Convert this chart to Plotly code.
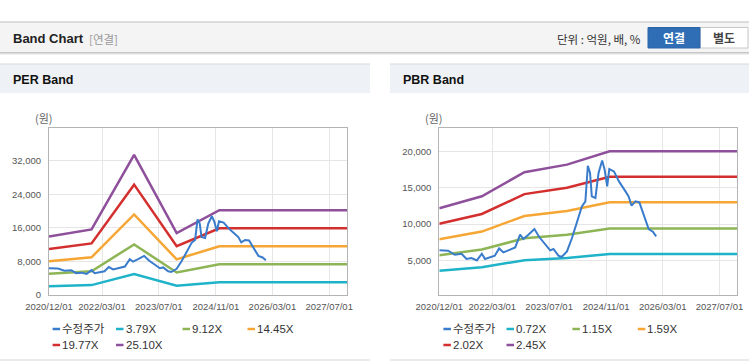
import plotly.graph_objects as go

W, H = 749, 364

# ---------------- data ----------------
price_dates = [
    "2020-12-01", "2021-02-15", "2021-04-13", "2021-06-10", "2021-07-22", "2021-09-04",
    "2021-10-19", "2021-12-01", "2021-12-28", "2022-02-10", "2022-03-22", "2022-04-28",
    "2022-06-04", "2022-07-16", "2022-09-13", "2022-10-25", "2022-11-22", "2023-01-04",
    "2023-02-25", "2023-04-07", "2023-05-28", "2023-07-10", "2023-08-07", "2023-09-19",
    "2023-10-16", "2023-12-01", "2024-01-13", "2024-02-25", "2024-04-07", "2024-05-07",
    "2024-05-28", "2024-06-16", "2024-07-01", "2024-08-01", "2024-08-28", "2024-09-28",
    "2024-10-19", "2024-11-10", "2024-11-28", "2025-01-07", "2025-02-19", "2025-04-16",
    "2025-05-13", "2025-06-07", "2025-07-10", "2025-08-13", "2025-09-19", "2025-10-19",
    "2025-11-01", "2025-12-07", "2026-01-04",
]
price = [
    6400, 6330, 5780, 5920, 5190, 5330,
    5000, 5920, 5190, 5470, 5650, 6650,
    6100, 6380, 6790, 8540, 7940, 8540,
    9320, 8220, 7160, 6380, 6570, 5650,
    5470, 6240, 8080, 10370, 12430, 13120,
    18030, 17030, 13810, 13590, 17030, 18760,
    17480, 15180, 17580, 17250, 15870, 14500,
    13810, 12530, 13120, 12980, 11290, 10150,
    9320, 8950, 8300,
]

band_dates = ["2020-12-01", "2021-12-01", "2022-12-01", "2023-12-01", "2024-12-01", "2027-12-01"]

per_names = ["3.79X", "9.12X", "14.45X", "19.77X", "25.10X"]
per_379 = [2100, 2360, 4980, 2230, 3050, 3050]
per_912 = [5060, 5670, 12050, 5360, 7340, 7340]
per_1445 = [8020, 8990, 19200, 8500, 11630, 11630]
per_1977 = [10970, 12300, 26300, 11620, 15910, 15910]
per_2510 = [13930, 15620, 33400, 14760, 20200, 20200]

pbr_names = ["0.72X", "1.15X", "1.59X", "2.02X", "2.45X"]
pbr_072 = [3580, 4060, 5030, 5340, 5880, 5880]
pbr_115 = [5720, 6490, 8040, 8530, 9400, 9400]
pbr_159 = [7900, 8970, 11110, 11800, 12990, 12990]
pbr_202 = [10040, 11390, 14120, 14990, 16500, 16500]
pbr_245 = [12180, 13820, 17130, 18180, 20020, 20020]

x_tick_vals = ["2020-12-01", "2022-03-01", "2023-07-01", "2024-11-01", "2026-03-01", "2027-07-01"]
x_tick_text = ["2020/12/01", "2022/03/01", "2023/07/01", "2024/11/01", "2026/03/01", "2027/07/01"]
per_y_ticks = [0, 8000, 16000, 24000, 32000]
pbr_y_ticks = [5000, 10000, 15000, 20000]

price_name = "수정주가"
band_colors = ["#1fb3c9", "#8db556", "#f6a634", "#d32f2f", "#8e4f9b"]
price_color = "#3a7ccc"

# ---------------- helpers ----------------
def px(x):
    return x / W

def py(y):
    return 1 - y / H

FONT = "Liberation Sans, Arial, Noto Sans CJK KR, sans-serif"
KFONT = "Noto Sans CJK KR, Liberation Sans, sans-serif"

fig = go.Figure()

per_bands = [per_379, per_912, per_1445, per_1977, per_2510]
pbr_bands = [pbr_072, pbr_115, pbr_159, pbr_202, pbr_245]

for vals, nm, col in zip(per_bands, per_names, band_colors):
    fig.add_trace(go.Scatter(x=band_dates, y=vals, name=nm, mode="lines",
                             line=dict(color=col, width=2.5), xaxis="x", yaxis="y",
                             showlegend=False, hoverinfo="skip"))
fig.add_trace(go.Scatter(x=price_dates, y=price, name=price_name, mode="lines",
                         line=dict(color=price_color, width=2), xaxis="x", yaxis="y",
                         showlegend=False, hoverinfo="skip"))

for vals, nm, col in zip(pbr_bands, pbr_names, band_colors):
    fig.add_trace(go.Scatter(x=band_dates, y=vals, name=nm, mode="lines",
                             line=dict(color=col, width=2.5), xaxis="x2", yaxis="y2",
                             showlegend=False, hoverinfo="skip"))
fig.add_trace(go.Scatter(x=price_dates, y=price, name=price_name, mode="lines",
                         line=dict(color=price_color, width=2), xaxis="x2", yaxis="y2",
                         showlegend=False, hoverinfo="skip"))

# plot areas (pixels)
PER_L, PER_R = 49, 347
PBR_L, PBR_R = 439.3, 737.3
TOP, BOT = 128, 295

axis_common = dict(
    showgrid=True, gridcolor="#e6e6e6", gridwidth=1,
    showline=True, linecolor="#b4b4b4", linewidth=1, mirror=True,
    zeroline=False, ticks="", fixedrange=True, automargin=False,
    tickfont=dict(family=FONT, size=9.5, color="#555555"),
)

fig.update_layout(
    template="none",
    width=W, height=H, autosize=False,
    margin=dict(l=0, r=0, t=0, b=0, pad=0),
    paper_bgcolor="white", plot_bgcolor="white",
    showlegend=False,
    xaxis=dict(axis_common, type="date", domain=[px(PER_L), px(PER_R)],
               range=["2020-12-01", "2027-12-01"], tickvals=x_tick_vals, ticktext=x_tick_text,
               anchor="y", ticklabelstandoff=3),
    yaxis=dict(axis_common, domain=[py(BOT), py(TOP)], range=[0, 39800],
               tickvals=per_y_ticks, ticktext=[f"{v:,}" for v in per_y_ticks],
               anchor="x", ticklabelstandoff=5),
    xaxis2=dict(axis_common, type="date", domain=[px(PBR_L), px(PBR_R)],
                range=["2020-12-01", "2027-12-01"], tickvals=x_tick_vals, ticktext=x_tick_text,
                anchor="y2", ticklabelstandoff=3),
    yaxis2=dict(axis_common, domain=[py(BOT), py(TOP)], range=[240, 23220],
                tickvals=pbr_y_ticks, ticktext=[f"{v:,}" for v in pbr_y_ticks],
                anchor="x2", ticklabelstandoff=5),
)

shapes = []
annots = []

def rect(x0, y0, x1, y1, fill, line=None, lw=0, layer="below"):
    shapes.append(dict(type="rect", xref="paper", yref="paper",
                       x0=px(x0), x1=px(x1), y0=py(y1), y1=py(y0),
                       fillcolor=fill, line=dict(color=line or fill, width=lw), layer=layer))

def hline(x0, x1, y, color, w=1, layer="below"):
    shapes.append(dict(type="line", xref="paper", yref="paper",
                       x0=px(x0), x1=px(x1), y0=py(y), y1=py(y),
                       line=dict(color=color, width=w), layer=layer))

def text(x, y, s, size=12, color="#333", family=FONT, xanchor="left", bold=False):
    if bold:
        s = f"<b>{s}</b>"
    annots.append(dict(xref="paper", yref="paper", x=px(x), y=py(y), text=s,
                       showarrow=False, xanchor=xanchor, yanchor="middle",
                       borderpad=0, font=dict(size=size, color=color, family=family)))

# top header band
rect(0, 22, W, 52.5, "#f4f4f4")
hline(0, W, 22, "#bdbdbd", 1.2)
hline(0, W, 52.5, "#c6c6c6", 1)
hline(0, W, 53.5, "#dedede", 1)
hline(0, W, 54.5, "#efefef", 1)
text(12, 38.5, "Band Chart", size=13, color="#222", bold=True)
text(88, 39, "[연결]", size=11.5, color="#999999", family=KFONT)
text(642, 39, "단위 : 억원, 배, %", size=11.5, color="#333333", family=KFONT, xanchor="right")
# buttons
rect(700, 27.5, 748, 48, "white", "#c8c8c8", 1)
rect(648, 27.5, 700, 48, "#2f6eb5", "#2a64a6", 1)
text(674, 38, "연결", size=12, color="white", family=KFONT, xanchor="center", bold=True)
text(724, 38, "별도", size=12, color="#444444", family=KFONT, xanchor="center", bold=True)

# panel headers
for (x0, x1, title) in [(0, 370, "PER Band"), (390, W, "PBR Band")]:
    rect(x0, 64, x1, 93, "#eef1f6")
    hline(x0, x1, 64, "#d9d9d9", 1.2)
    hline(x0, x1, 360, "#d6d6d6", 1.2)
    text(x0 + 12, 79.5, title, size=12.5, color="#111", bold=True)

# y-axis units
text(44, 118, "(원)", size=11, color="#666666", family=KFONT, xanchor="center")
text(434, 118, "(원)", size=11, color="#666666", family=KFONT, xanchor="center")

# legends
legend_cols_per = [52.6, 116, 182.5, 247.5]
legend_cols_pbr = [443.4, 506.5, 572.4, 637.8]
rows = [329, 345]
per_labels = [price_name] + per_names
pbr_labels = [price_name] + pbr_names
leg_colors = [price_color] + band_colors
for cols, labels in [(legend_cols_per, per_labels), (legend_cols_pbr, pbr_labels)]:
    for i, (lab, col) in enumerate(zip(labels, leg_colors)):
        r = i // 4
        c = i % 4
        x = cols[c]
        y = rows[r]
        hline(x, x + 7.5, y, col, 2.5, layer="above")
        text(x + 8.5, y, lab, size=11.5, color="#333333", family=FONT)

fig.update_layout(shapes=shapes, annotations=annots)

fig.write_html(
    "out.html",
    config={"displayModeBar": False},
    post_script="document.body.style.margin='0';document.body.style.padding='0';"
                "document.documentElement.style.overflow='hidden';",
)
